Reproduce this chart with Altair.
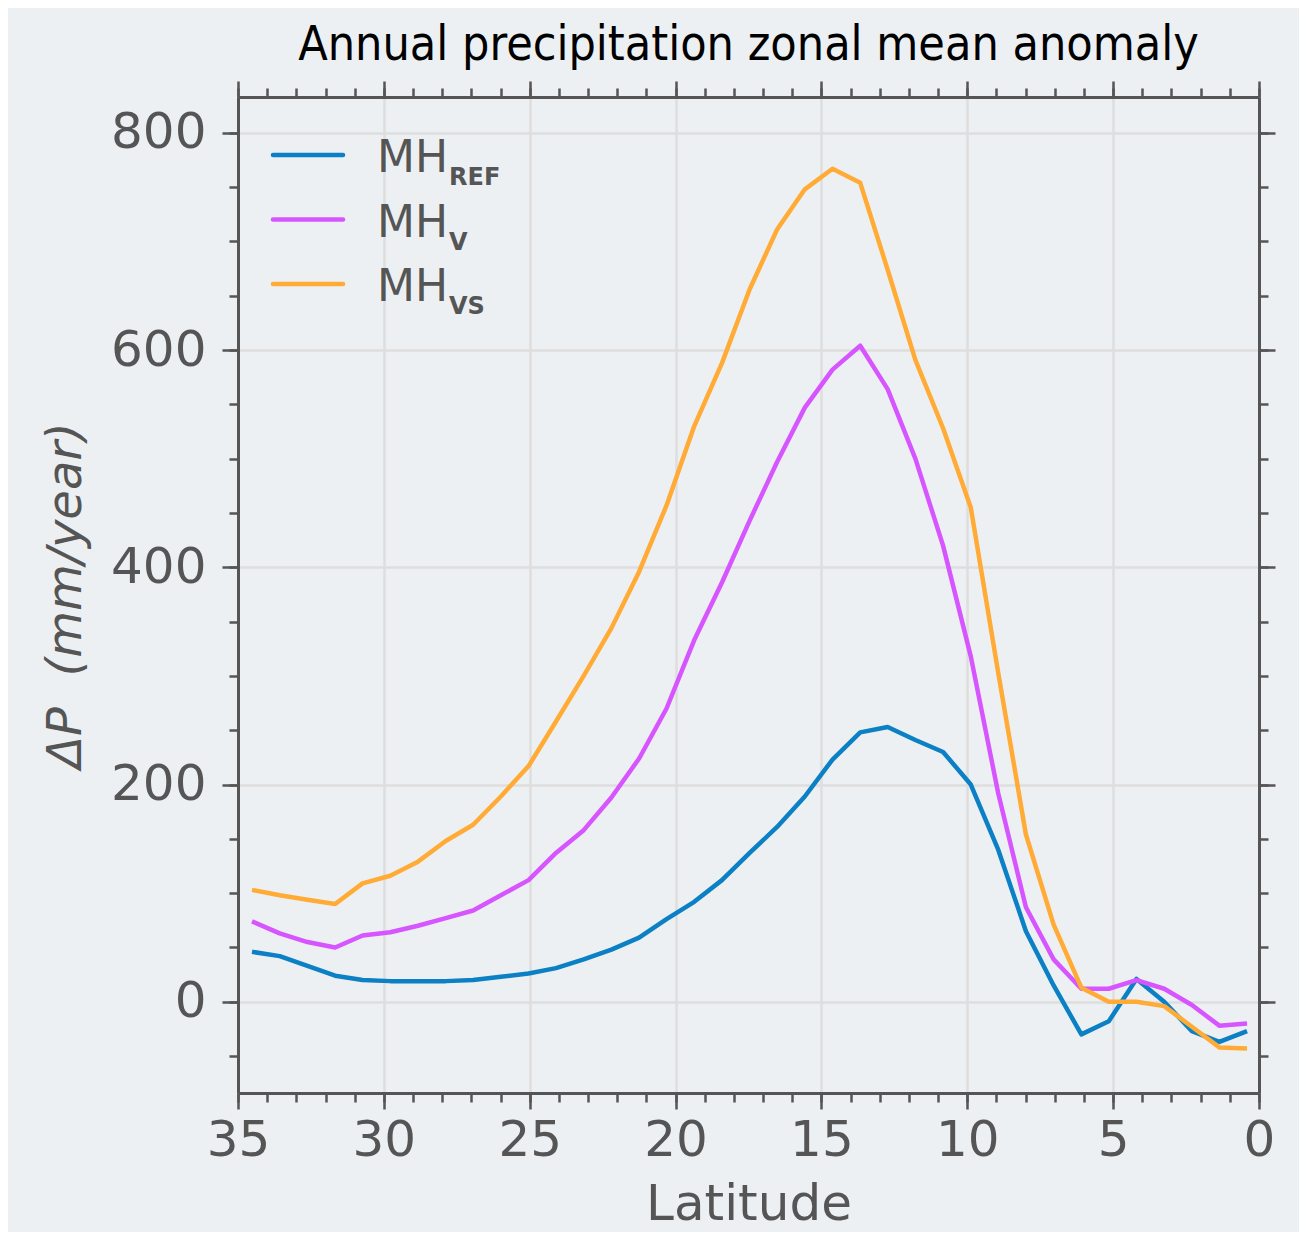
import altair as alt
import pandas as pd

# Latitude grid (degrees N)
lat = [0.41, 1.36, 2.30, 3.25, 4.20, 5.15, 6.09, 7.04, 7.99, 8.94,
       9.88, 10.83, 11.78, 12.73, 13.67, 14.62, 15.57, 16.52, 17.46, 18.41,
       19.36, 20.31, 21.25, 22.20, 23.15, 24.10, 25.04, 25.99, 26.94, 27.88,
       28.83, 29.78, 30.73, 31.67, 32.62, 33.57, 34.52]

mh_ref = [-27, -37, -27, 0, 21, -18, -30, 15, 65, 140,
          200, 230, 241, 253, 248, 223, 189, 161, 137, 112,
          92, 76, 59, 48, 39, 31, 26, 23, 20, 19,
          19, 19, 20, 24, 33, 42, 46]

mh_v = [-20, -22, -3, 12, 20, 12, 12, 39, 87, 192,
        318, 420, 500, 564, 604, 582, 547, 497, 443, 386,
        333, 270, 224, 188, 158, 137, 112, 98, 84, 77,
        70, 64, 61, 50, 55, 63, 74]

mh_vs = [-43, -42, -23, -4, 0, 0, 13, 71, 154, 303,
         455, 528, 591, 674, 754, 767, 748, 711, 656, 588,
         530, 457, 396, 344, 300, 258, 217, 189, 163, 148,
         129, 116, 109, 90, 94, 98, 103]

series_names = ["MH_REF", "MH_V", "MH_VS"]
series_colors = ["#0b80c4", "#d655ff", "#ffab36"]
legend_main = ["MH", "MH", "MH"]
legend_sub = ["REF", "V", "VS"]

x_major = [0, 5, 10, 15, 20, 25, 30, 35]
x_minor = list(range(0, 36))
y_major = [0, 200, 400, 600, 800]
y_minor = list(range(-50, 801, 50))

rows = []
for name, vals in zip(series_names, [mh_ref, mh_v, mh_vs]):
    for la, va in zip(lat, vals):
        rows.append({"lat": la, "dp": va, "series": name})
df = pd.DataFrame(rows)

AX = "#555555"
FONT = "DejaVu Sans"
xscale = alt.Scale(domain=[35, 0], nice=False, zero=False)
yscale = alt.Scale(domain=[-84, 833], nice=False, zero=False)
cscale = alt.Scale(domain=series_names, range=series_colors)

base = alt.Chart(df)

main = base.mark_line(strokeWidth=4.5, strokeJoin="round").encode(
    x=alt.X("lat:Q", scale=xscale, axis=alt.Axis(
        orient="bottom", values=x_major, tickSize=16, tickWidth=2.5, tickColor=AX,
        domainColor=AX, domainWidth=3, labelFontSize=50, labelFont=FONT, labelColor=AX,
        labelPadding=6, labelFlush=False, grid=True, gridColor="#dedede", gridWidth=2.5,
        title="Latitude", titleFontSize=50, titleFont=FONT, titleColor=AX,
        titleFontWeight="normal", titlePadding=14)),
    y=alt.Y("dp:Q", scale=yscale, axis=alt.Axis(
        orient="left", values=y_major, tickSize=16, tickWidth=2.5, tickColor=AX,
        domainColor=AX, domainWidth=3, labelFontSize=50, labelFont=FONT, labelColor=AX,
        labelPadding=16, labelFlush=False, grid=True, gridColor="#dedede", gridWidth=2.5,
        title="ΔP\u00a0\u00a0(mm/year)", titleFontSize=48, titleFont=FONT, titleColor=AX,
        titleFontStyle="italic", titleFontWeight="normal", titlePadding=20)),
    color=alt.Color("series:N", scale=cscale, legend=None),
    detail="series:N",
)

def tick_layer(xorient, yorient, xvals, yvals, size, domain):
    return base.mark_point(opacity=0).encode(
        x=alt.X("lat:Q", scale=xscale, axis=alt.Axis(
            orient=xorient, values=xvals, tickSize=size, tickWidth=2.5, tickColor=AX,
            domain=domain, domainColor=AX, domainWidth=3, labels=False, grid=False,
            title=None)),
        y=alt.Y("dp:Q", scale=yscale, axis=alt.Axis(
            orient=yorient, values=yvals, tickSize=size, tickWidth=2.5, tickColor=AX,
            domain=domain, domainColor=AX, domainWidth=3, labels=False, grid=False,
            title=None)),
    )

minor_bl = tick_layer("bottom", "left", x_minor, y_minor, 9, False)
major_tr = tick_layer("top", "right", x_major, y_major, 16, True)
minor_tr = tick_layer("top", "right", x_minor, y_minor, 9, False)

legend_layers = []
for i, (col, m, s) in enumerate(zip(series_colors, legend_main, legend_sub)):
    yy = 58 + 64.5 * i
    d = pd.DataFrame({"m": [m], "s": [s]})
    c = alt.Chart(d)
    legend_layers.append(c.mark_rule(color=col, strokeWidth=4.5, strokeCap="round").encode(
        x=alt.value(35), x2=alt.value(105), y=alt.value(yy)))
    legend_layers.append(c.mark_text(fontSize=44, font=FONT, color=AX, align="left",
                                     baseline="alphabetic").encode(
        x=alt.value(139), y=alt.value(yy + 17), text="m:N"))
    legend_layers.append(c.mark_text(fontSize=24, font=FONT, color=AX, align="left",
                                     baseline="alphabetic", fontWeight="bold").encode(
        x=alt.value(211), y=alt.value(yy + 30), text="s:N"))

chart = alt.layer(main, minor_bl, major_tr, minor_tr, *legend_layers).resolve_axis(
    x="independent", y="independent"
).properties(
    width=1021, height=996,
    title=alt.TitleParams("Annual precipitation zonal mean anomaly", fontSize=48,
                          font="Liberation Sans Narrow, DejaVu Sans Condensed, Roboto Condensed, Roboto",
                          fontWeight="normal", color="black", anchor="middle", offset=10),
    background="#edf0f3",
    padding={"left": 230, "top": 89, "right": 40, "bottom": 139},
    autosize=alt.AutoSizeParams(type="none"),
).configure_view(stroke=None)

chart.save("out.html", embed_options={"renderer": "svg", "actions": False})
